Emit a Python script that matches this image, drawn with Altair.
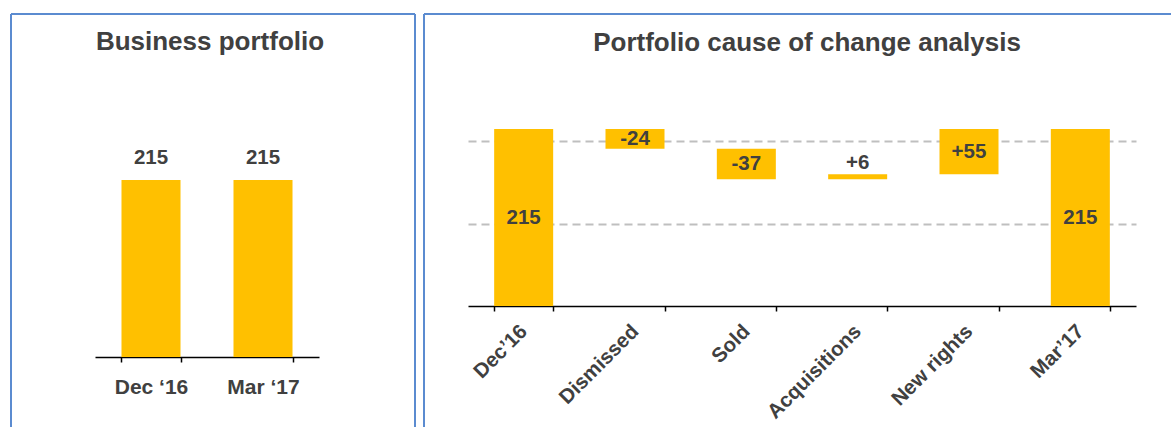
import altair as alt
import pandas as pd

# ---------------- data ----------------
left_title = "Business portfolio"
portfolio_periods = ["Dec \u201816", "Mar \u201817"]
portfolio_values = [215, 215]
portfolio_labels = ["215", "215"]

right_title = "Portfolio cause of change analysis"
change_steps = ["Dec\u201916", "Dismissed", "Sold", "Acquisitions", "New rights", "Mar\u201917"]
change_amounts = [215, -24, -37, 6, 55, 215]
change_kinds = ["total", "delta", "delta", "delta", "delta", "total"]
change_labels = ["215", "-24", "-37", "+6", "+55", "215"]
grid_values = [100, 200]

# ---------------- style ----------------
FONT = "Liberation Sans"
TEXT = "#404040"
BAR = "#FFC000"
FRAME = "#5B8BD0"
GRID = "#BFBFBF"

L_W, L_H = 224, 265
R_W, R_H = 668, 214

# ---------------- tables ----------------
left_df = pd.DataFrame({"period": portfolio_periods, "value": portfolio_values,
                        "label": portfolio_labels})

rows = []
level = 0
for step, amt, kind, lab in zip(change_steps, change_amounts, change_kinds, change_labels):
    if kind == "total":
        start, end = 0, amt
    else:
        start, end = level, level + amt
    level = end
    rows.append({"step": step, "start": start, "end": end, "label": lab,
                 "mid": (start + end) / 2, "top": max(start, end), "size": abs(amt)})
right_df = pd.DataFrame(rows)

one = pd.DataFrame({"k": [0]})


def frame_layers(x_left, x_right, y_top, y_bottom, draw_right):
    base = alt.Chart(one)
    style = dict(color=FRAME, strokeWidth=2)
    layers = [
        base.mark_rule(**style).encode(x=alt.value(x_left), x2=alt.value(x_right), y=alt.value(y_top)),
        base.mark_rule(**style).encode(x=alt.value(x_left), y=alt.value(y_top), y2=alt.value(y_bottom)),
    ]
    if draw_right:
        layers.append(base.mark_rule(**style).encode(x=alt.value(x_right), y=alt.value(y_top),
                                                     y2=alt.value(y_bottom)))
    return layers


def title_layer(text, x, y):
    return alt.Chart(pd.DataFrame({"t": [text]})).mark_text(
        font=FONT, fontSize=26, fontWeight="bold", color=TEXT, align="center", baseline="alphabetic"
    ).encode(x=alt.value(x), y=alt.value(y), text="t:N")


# ---------------- left panel ----------------
lx = alt.X("period:N", sort=portfolio_periods, title=None,
           scale=alt.Scale(paddingInner=0.473, paddingOuter=0.2365),
           axis=alt.Axis(labelAngle=0, labelFont=FONT, labelFontSize=21, labelFontWeight="bold",
                         labelColor=TEXT, labelBaseline="alphabetic", labelPadding=31,
                         tickBand="extent", tickSize=5, tickColor="black", tickWidth=1.5,
                         domainColor="black", domainWidth=1.5, grid=False))
ly = alt.Y("value:Q", title=None, scale=alt.Scale(domain=[0, 322], nice=False), axis=None)
lbase = alt.Chart(left_df).encode(x=lx, y=ly)
left_bars = lbase.mark_bar(color=BAR)
left_vals = lbase.mark_text(font=FONT, fontSize=20.5, fontWeight="bold", color=TEXT,
                            baseline="alphabetic", dy=-16).encode(text="label:N")

left = alt.layer(
    *frame_layers(-84, 320, -78, 335, True),
    title_layer(left_title, 115, -42),
    left_bars, left_vals,
).properties(width=L_W, height=L_H)

# ---------------- right panel ----------------
rx = alt.X("step:N", sort=change_steps, title=None,
           scale=alt.Scale(paddingInner=0.47, paddingOuter=0.235),
           axis=alt.Axis(labelAngle=-45, labelAlign="right", labelBaseline="middle", labelPadding=17,
                         labelFont=FONT, labelFontSize=20.5, labelFontWeight="bold", labelColor=TEXT,
                         tickBand="extent", tickSize=5, tickColor="black", tickWidth=1.5,
                         domainColor="black", domainWidth=1.5, grid=False))
yaxis = alt.Axis(values=grid_values, grid=True, gridDash=[8, 5], gridColor=GRID, gridWidth=2,
                 labels=False, ticks=False, domain=False, title=None)
yscale = alt.Scale(domain=[0, 260], nice=False)
rbase = alt.Chart(right_df).encode(x=rx)
right_bars = rbase.mark_bar(color=BAR).encode(
    y=alt.Y("start:Q", scale=yscale, axis=yaxis, title=None), y2="end:Q")
txt = dict(font=FONT, fontSize=20.5, fontWeight="bold", color=TEXT)
inside = rbase.transform_filter("datum.size >= 10").mark_text(baseline="middle", **txt).encode(
    y=alt.Y("mid:Q", scale=yscale, axis=yaxis, title=None), text="label:N")
above = rbase.transform_filter("datum.size < 10").mark_text(baseline="alphabetic", dy=-5, **txt).encode(
    y=alt.Y("top:Q", scale=yscale, axis=yaxis, title=None), text="label:N")

right = alt.layer(
    *frame_layers(-44, 703, -78, 335, False),
    title_layer(right_title, 339, -41),
    right_bars, inside, above,
).properties(width=R_W, height=R_H)

chart = alt.HConcatChart(
    hconcat=[left, right], spacing=149, bounds="flush",
    padding={"left": 10, "top": 13, "right": 0, "bottom": 0},
).configure_view(strokeWidth=0)

chart.save("out.html", embed_options={"renderer": "svg", "actions": False})
